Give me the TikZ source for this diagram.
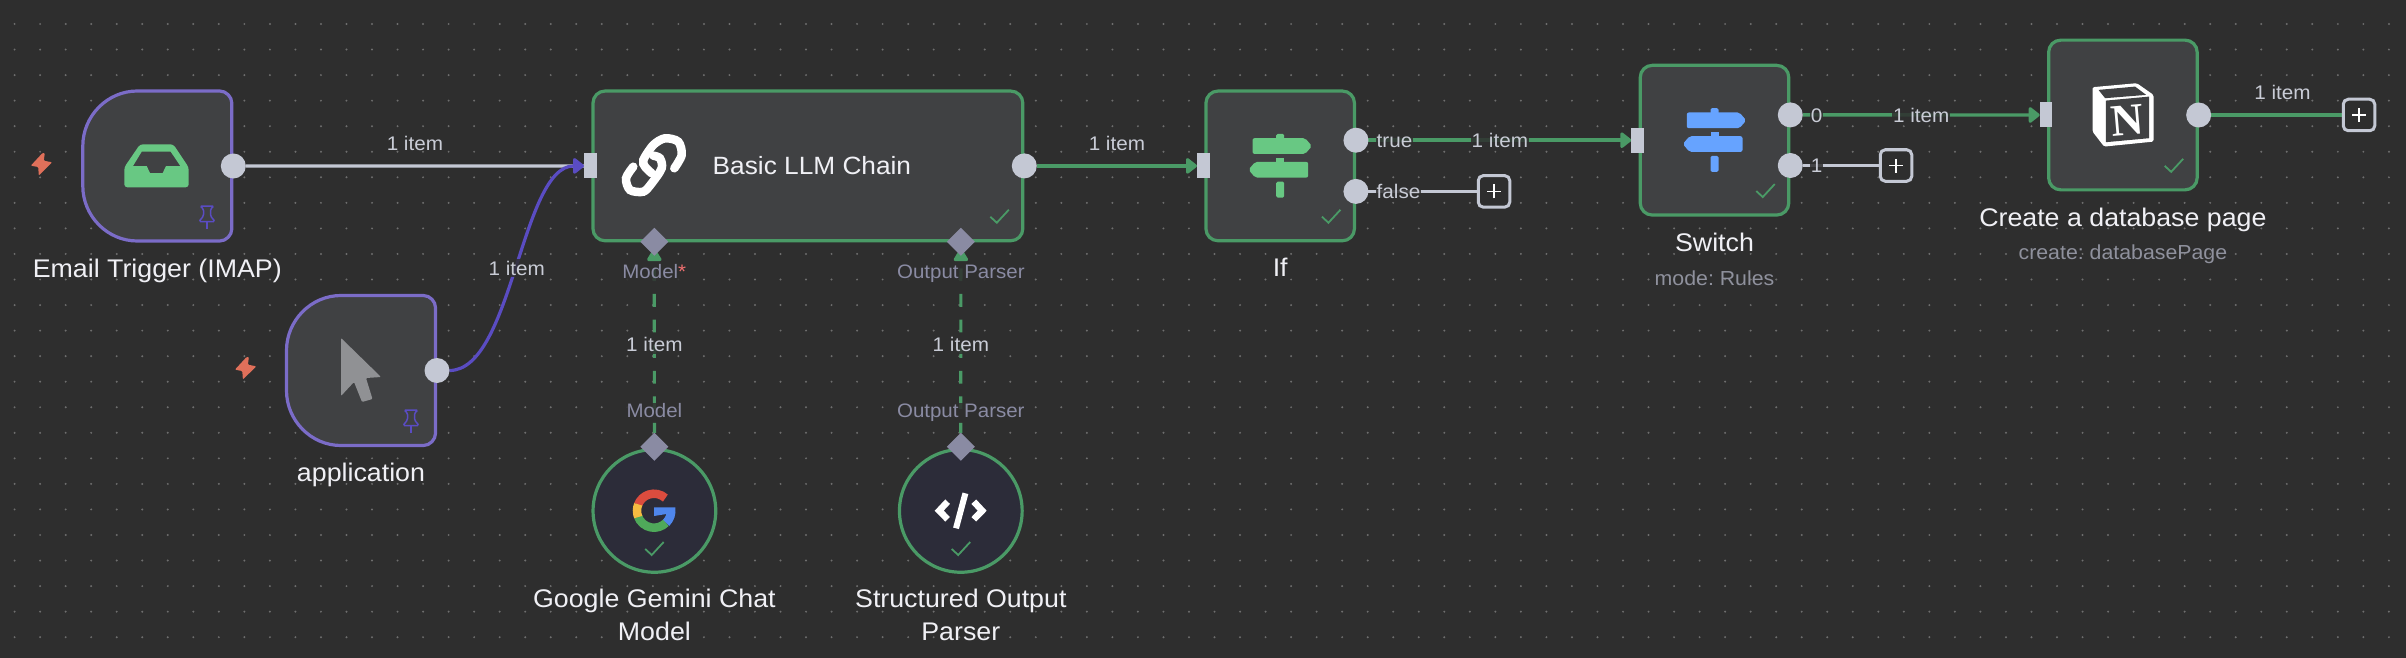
\documentclass[tikz,border=0pt]{standalone}
\usepackage{fontspec}
\setmainfont[FakeStretch=1.05]{Liberation Sans}
\newfontfamily\iconserif{Liberation Serif}
\frenchspacing
\usetikzlibrary{arrows.meta, positioning, shapes.geometric, backgrounds}
\definecolor{canvas}{HTML}{2E2E2E}
\definecolor{griddot}{HTML}{6E6E6E}
\definecolor{boxfill}{HTML}{404143}
\definecolor{roundfill}{HTML}{2C2C39}
\definecolor{okgreen}{HTML}{4A9A66}
\definecolor{trigline}{HTML}{7B6CC8}
\definecolor{purpleflow}{HTML}{5A4CC2}
\definecolor{portgrey}{HTML}{C4C8D4}
\definecolor{diamondgrey}{HTML}{8A8BA3}
\definecolor{signgreen}{HTML}{68C883}
\definecolor{signblue}{HTML}{66A3FF}
\definecolor{boltred}{HTML}{E0705A}
\definecolor{titlewhite}{HTML}{F0F0F5}
\definecolor{itemgrey}{HTML}{C9CCD6}
\definecolor{subgrey}{HTML}{8F919D}
\definecolor{cursorgrey}{HTML}{909194}
\definecolor{googlered}{HTML}{DB4C3E}
\definecolor{googleyellow}{HTML}{F5BB41}
\definecolor{googlegreen}{HTML}{4FA95A}
\definecolor{googleblue}{HTML}{4F86EC}

\tikzset{
    pics/bolt/.style={code={
        \fill[boltred, rounded corners=1pt] (1,-11) -- (-10.7,1.7) -- (-3.3,3) -- (-2.7,11.5) -- (10.7,-1.7) -- (2.3,-3.3) -- (3.3,-11) -- cycle;
    }},
    pics/pin/.style={code={
        \draw[purpleflow, line width=1.5pt, rounded corners=1.5pt] (-7,-11) -- (7,-11) -- (3.5,-8) -- (3.5,-1) -- (8,4.5) -- (-8,4.5) -- (-3.5,-1) -- (-3.5,-8) -- cycle;
        \draw[purpleflow, line width=1.5pt] (0,5) -- (0,12);
    }},
    pics/okmark/.style={code={
        \draw[okgreen, line width=1.8pt] (-9,-1) -- (-2.5,5) -- (9.5,-8);
    }},
    pics/trigshape/.style={code={
        \filldraw[draw=trigline, line width=3.2pt, fill=boxfill] (-20,-75) .. controls (-50,-75) and (-74.5,-50) .. (-74.5,-20) -- (-74.5,20) .. controls (-74.5,50) and (-50,75) .. (-20,75) -- (62.5,75) .. controls (69,75) and (74.5,69) .. (74.5,63) -- (74.5,-63) .. controls (74.5,-69) and (69,-75) .. (62.5,-75) -- cycle;
    }},
    pics/signpost/.style={code={
        \fill[#1, rounded corners=2pt] (-27.7,-27.7) -- (25,-27.7) -- (31.7,-19.8) -- (25,-12) -- (-27.7,-12) -- cycle;
        \fill[#1, rounded corners=2pt] (-25,-4) -- (28,-4) -- (28,11.7) -- (-25,11.7) -- (-31.7,3.8) -- cycle;
        \fill[#1, rounded corners=1.5pt] (-4,-32) rectangle (4,-25);
        \fill[#1] (-4,-8.3) rectangle (4,-3);
        \fill[#1, rounded corners=1.5pt] (-4,15.7) rectangle (4,31.7);
    }}
}

\begin{document}
\begin{tikzpicture}[
    x=1pt, y=-1pt,
    node distance=18pt,
    nodebox/.style={rectangle, draw=okgreen, line width=3.2pt, fill=boxfill, rounded corners=12pt, outer sep=0pt, inner sep=0pt},
    trigbox/.style={rectangle, outer sep=0pt, minimum width=149pt, minimum height=150pt},
    roundbox/.style={circle, draw=okgreen, line width=3.2pt, fill=roundfill, minimum size=122.7pt, outer sep=0pt, inner sep=0pt},
    portout/.style={circle, fill=portgrey, minimum size=25pt, inner sep=0pt, outer sep=0pt, xshift=1.5pt},
    portin/.style={rectangle, fill=portgrey, minimum width=12.7pt, minimum height=25pt, inner sep=0pt, outer sep=0pt, xshift=-2.6pt},
    portsub/.style={diamond, fill=diamondgrey, minimum width=28pt, minimum height=28pt, inner sep=0pt, outer sep=0pt},
    plusbox/.style={rectangle, draw=portgrey, line width=3pt, fill=canvas, rounded corners=5pt, minimum size=31.5pt, outer sep=0pt, inner sep=0pt,
        path picture={\draw[white, line width=1.4pt] ([xshift=-7pt]path picture bounding box.center) -- ([xshift=7pt]path picture bounding box.center)
            ([yshift=-7pt]path picture bounding box.center) -- ([yshift=7pt]path picture bounding box.center);}},
    nodetitle/.style={text=titlewhite, font=\fontsize{25.5}{31}\selectfont, inner sep=0pt, text height=18pt, text depth=5.5pt},
    longtitle/.style={text=titlewhite, font=\fontsize{25.5}{31.5}\selectfont, inner sep=0pt, align=center},
    nodesub/.style={text=subgrey, font=\fontsize{20.3}{24}\selectfont, inner sep=0pt, text height=14pt, text depth=4pt},
    toplabel/.style={text=itemgrey, font=\fontsize{19.7}{24}\selectfont, inner sep=0pt, text height=14.5pt, text depth=0pt},
    linelabel/.style={toplabel, fill=canvas, fill opacity=0.85, text opacity=1, inner xsep=1pt, inner ysep=2pt},
    portlabel/.style={text=diamondgrey, font=\fontsize{19.5}{24}\selectfont, fill=canvas, fill opacity=0.85, text opacity=1, inner xsep=1pt, inner ysep=1pt, text height=13.5pt, text depth=4pt},
    flow/.style={draw=okgreen, line width=3.4pt, -{Triangle[length=12pt, width=18pt, round]}},
    purpleline/.style={draw=purpleflow, line width=3.2pt, -{Triangle[length=12pt, width=18pt, round]}},
    subflow/.style={draw=okgreen, line width=3.2pt, dash pattern=on 12.8pt off 12.8pt, dash phase=2pt, -{Triangle[length=14pt, width=16pt, round]}, shorten >=-7pt},
    idle/.style={draw=portgrey, line width=3.2pt},
    endline/.style={draw=okgreen, line width=3.4pt}
]
    \begin{pgfonlayer}{background}
        \fill[canvas] (0,0) rectangle (2406,658);
        \fill[griddot] foreach \col in {0,...,93} { foreach \row in {0,...,24} { ({14.6+25.53*\col},{24+25.55*\row}) circle (1.1pt) } };
    \end{pgfonlayer}

    \node[trigbox] (email) at (157.3,166) {};
    \pic at (email.center) {trigshape};
    \node[trigbox] (application) at (361,370.5) {};
    \pic at (application.center) {trigshape};
    \node[nodebox, minimum width=429.8pt, minimum height=149.7pt] (llm) at (807.9,165.9) {};
    \node[nodebox, minimum width=148.5pt, minimum height=149.7pt] (ifbox) at (1280.2,165.9) {};
    \node[nodebox, minimum width=148.5pt, minimum height=149.7pt] (switch) at (1714.5,140.2) {};
    \node[nodebox, minimum width=148.5pt, minimum height=149.7pt] (notion) at (2122.9,115) {};
    \node[roundbox] (gemini) at (654.4,510.9) {};
    \node[roundbox] (parser) at (960.8,510.9) {};

    \node[portout] (emailOut) at (email.east) {};
    \node[portout] (appOut) at (application.east) {};
    \node[portin] (llmIn) at (llm.west) {};
    \node[portout] (llmOut) at (llm.east) {};
    \node[portsub, xshift=-153.6pt, yshift=-1pt] (llmModel) at (llm.south) {};
    \node[portsub, xshift=153pt, yshift=-1pt] (llmParser) at (llm.south) {};
    \node[portsub, yshift=2.8pt] (geminiOut) at (gemini.north) {};
    \node[portsub, yshift=2.8pt] (parserOut) at (parser.north) {};
    \node[portin] (ifIn) at (ifbox.west) {};
    \node[portout, yshift=25.7pt] (ifTrue) at (ifbox.east) {};
    \node[portout, yshift=-25.5pt] (ifFalse) at (ifbox.east) {};
    \node[portin] (switchIn) at (switch.west) {};
    \node[portout, yshift=25.3pt] (switchZero) at (switch.east) {};
    \node[portout, yshift=-25.3pt] (switchOne) at (switch.east) {};
    \node[portin] (notionIn) at (notion.west) {};
    \node[portout] (notionOut) at (notion.east) {};

    \node[plusbox] (plusFalse) at (1494,191.4) {};
    \node[plusbox] (plusOne) at (1896,165.5) {};
    \node[plusbox] (plusEnd) at (2359,115) {};

    \node[nodetitle, below=of email] (emailTitle) {Email Trigger (IMAP)};
    \node[nodetitle, below=of application] (appTitle) {application};
    \node[nodetitle, below=of ifbox] (ifTitle) {If};
    \node[nodetitle, below=of switch] (switchTitle) {Switch};
    \node[nodesub, below=14.5pt of switchTitle] (switchSub) {mode: Rules};
    \node[nodetitle, below=of notion] (notionTitle) {Create a database page};
    \node[nodesub, below=14pt of notionTitle] (notionSub) {create: databasePage};
    \node[longtitle, below=16.5pt of gemini] (geminiTitle) {Google Gemini Chat\\[2pt]Model};
    \node[longtitle, below=16.5pt of parser] (parserTitle) {Structured Output\\[2pt]Parser};
    \node[text=titlewhite, font=\fontsize{25}{31}\selectfont, anchor=west, xshift=119.5pt, inner sep=0pt] (llmTitle) at (llm.west) {Basic LLM Chain};

    \node[portlabel, below=8.5pt of llmModel] (llmModelLabel) {Model\textcolor[HTML]{F07070}{*}};
    \node[portlabel, below=8.5pt of llmParser] (llmParserLabel) {Output Parser};
    \node[portlabel, above=10pt of geminiOut] (geminiLabel) {Model};
    \node[portlabel, above=10pt of parserOut] (parserLabel) {Output Parser};

    \begin{pgfonlayer}{background}
        \draw[idle] (emailOut) -- node[toplabel, above=14pt] (emailItem) {1 item} (llmIn);
        \draw[purpleline] (appOut.east) .. controls +(63,0) and +(-63,0) .. node[linelabel] (appItem) {1 item} (llmIn.west);
        \draw[flow] (llmOut) -- node[toplabel, above=14pt] (llmItem) {1 item} (ifIn);
        \draw[flow] (ifTrue) -- node[linelabel] (trueItem) {1 item} (switchIn);
        \draw[idle] (ifFalse) -- (plusFalse);
        \draw[flow] (switchZero) -- node[linelabel] (zeroItem) {1 item} (notionIn);
        \draw[idle] (switchOne) -- (plusOne);
        \draw[endline] (notionOut) -- node[pos=0.54, toplabel, above=14pt] (notionItem) {1 item} (plusEnd);
        \draw[subflow] (geminiOut.north) -- node[linelabel] (geminiItem) {1 item} (llmModel.south);
        \draw[subflow] (parserOut.north) -- node[linelabel] (parserItem) {1 item} (llmParser.south);
    \end{pgfonlayer}

    \node[linelabel, right=7pt of ifTrue] (trueLabel) {true};
    \node[linelabel, right=7pt of ifFalse] (falseLabel) {false};
    \node[linelabel, right=7pt of switchZero] (zeroLabel) {0};
    \node[linelabel, right=7pt of switchOne] (oneLabel) {1};

    \pic at (41.5,164) {bolt};
    \pic at (245.6,368) {bolt};
    \pic at (207,217) {pin};
    \pic at (411,421) {pin};

    \fill[signgreen, even odd rule] [rounded corners=3pt] (140,144.3) -- (173.3,144.3) -- (188.7,167.3) -- (188.7,187.3) -- (124.3,187.3) -- (124.3,167.3) -- cycle
        [sharp corners] (141.7,151.7) -- (170.7,151.7) -- (180.3,166) -- (166,166) -- (162.7,173) -- (150,173) -- (146.7,166) -- (133,166) -- cycle;
    \fill[cursorgrey, rounded corners=1pt] (341,338) -- (381,377) -- (366,378) -- (372.5,399) -- (362,402) -- (354,382) -- (341,396) -- cycle;

    \draw[white, line width=8.5pt, line cap=round] plot[smooth] coordinates {(674.3,168.3) (681.7,155) (678.3,141.7) (665,138.3) (653.3,145) (643.3,160) (645,166.7) (651.7,173.3)};
    \draw[white, line width=8.5pt, line cap=round] plot[smooth] coordinates {(633.3,166.7) (626,178.3) (630,190) (643.3,191.7) (651.7,183.3) (661.7,168.3) (660,158.3) (653.3,155.7)};

    \pic at (ifbox.center) {signpost=signgreen};
    \pic at (switch.center) {signpost=signblue};

    \begin{scope}[shift={(654,510.7)}, y=1pt]
        \draw[line width=8.5pt, color=googlegreen] (200:17pt) arc[start angle=200, end angle=315, radius=17pt];
        \draw[line width=8.5pt, color=googlered] (48:17pt) arc[start angle=48, end angle=160, radius=17pt];
        \draw[line width=8.5pt, color=googleyellow] (158:17pt) arc[start angle=158, end angle=202, radius=17pt];
        \fill[googleblue] (0pt,3.4pt) -- (21.3pt,3.4pt) arc[start angle=9, end angle=-45, radius=21.6pt] -- (-45:12.8pt) arc[start angle=-45, end angle=-15, radius=12.8pt] -- (0pt,-5.3pt) -- cycle;
    \end{scope}

    \draw[white, line width=6.5pt] (947.6,501.7) -- (939.2,510.7) -- (947.6,519.3);
    \draw[white, line width=6.5pt] (973.8,501.7) -- (982.2,510.7) -- (973.8,519.3);
    \draw[white, line width=6pt] (965.4,493.3) -- (956,528.3);

    \fill[white, rounded corners=1.5pt] (2092.5,87.2) -- (2136.8,83.2) -- (2153.5,94.9) -- (2153.5,141.6) -- (2104.1,146.6) -- (2092.5,131.6) -- cycle;
    \fill[boxfill] (2098.5,89.9) -- (2135.1,86.6) -- (2146.1,94.9) -- (2105.1,98.2) -- cycle;
    \fill[boxfill] (2105.8,100.6) -- (2149.1,96.6) -- (2149.1,138.2) -- (2105.8,142.2) -- cycle;
    \node[text=white, font=\iconserif\bfseries\fontsize{45}{45}\selectfont, rotate=5, inner sep=0pt] (notionGlyph) at (2127.5,120) {N};

    \pic at ([shift={(-23.5,-23)}]llm.south east) {okmark};
    \pic at ([shift={(-23.5,-23)}]ifbox.south east) {okmark};
    \pic at ([shift={(-23.5,-23)}]switch.south east) {okmark};
    \pic at ([shift={(-23.5,-23)}]notion.south east) {okmark};
    \pic at (654.2,550) {okmark};
    \pic at (960.7,550) {okmark};
\end{tikzpicture}
\end{document}
